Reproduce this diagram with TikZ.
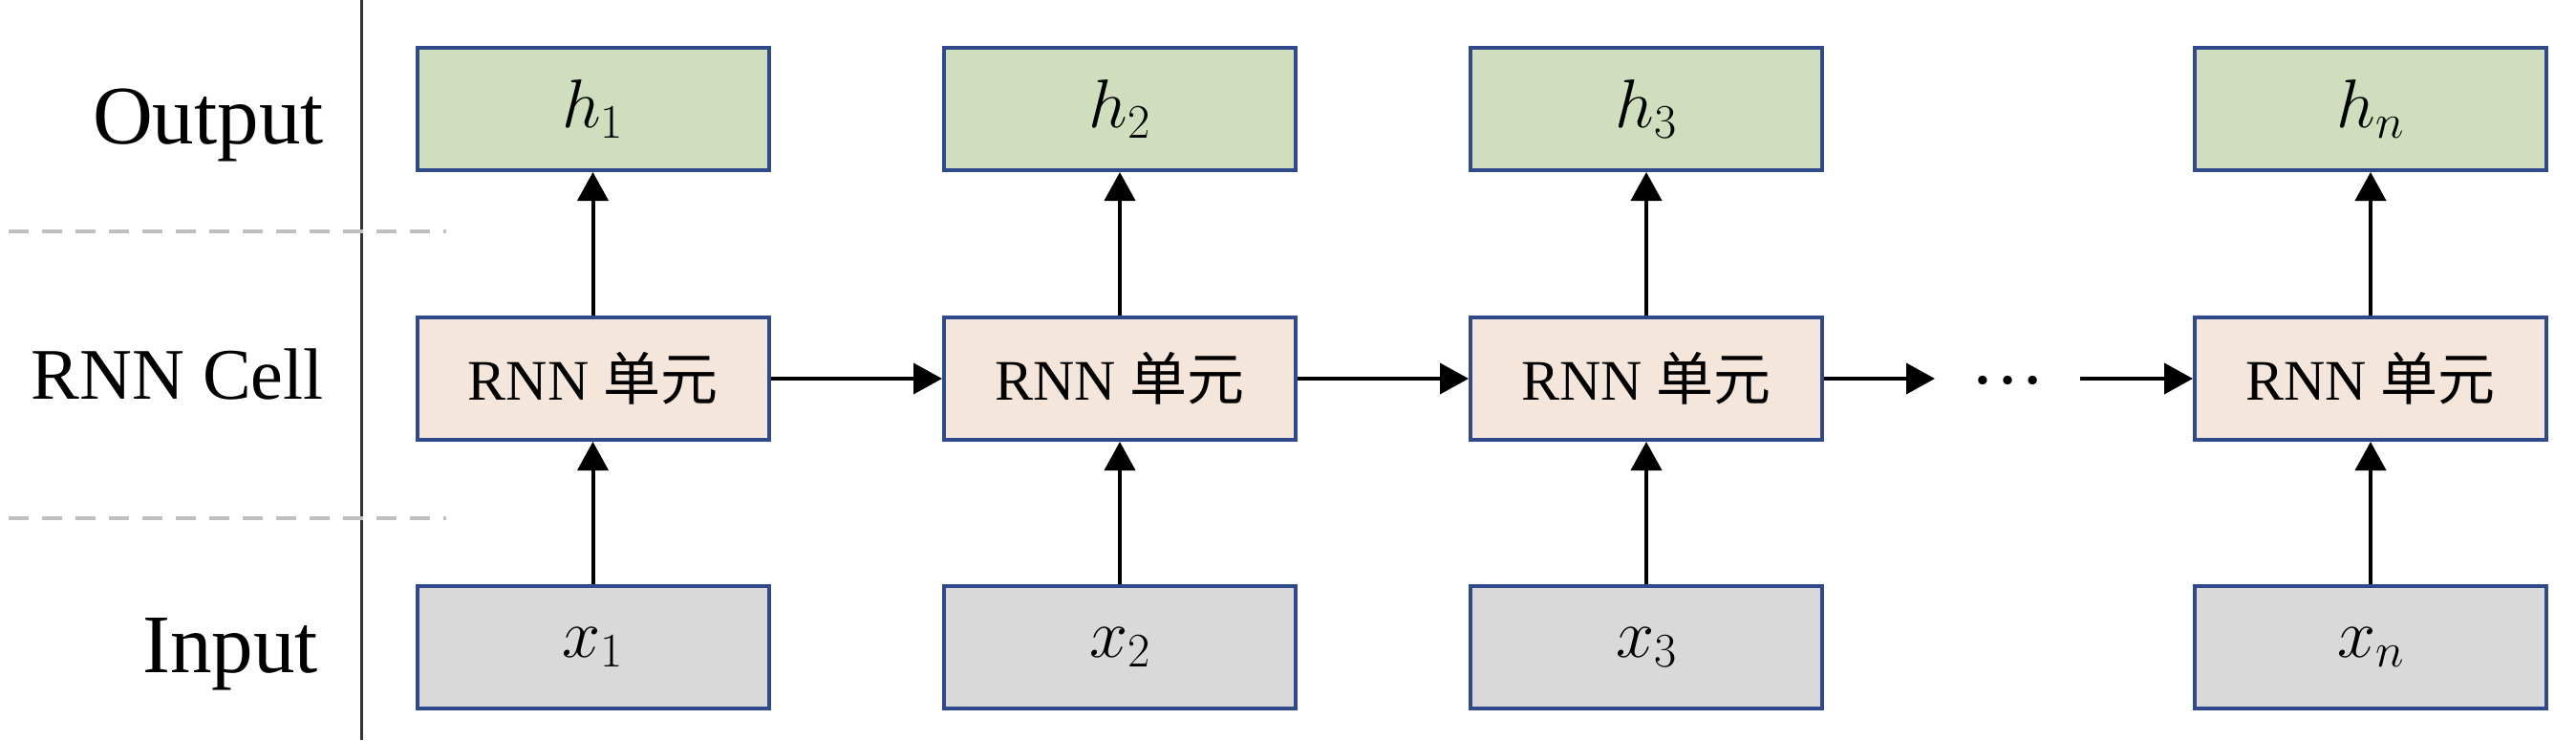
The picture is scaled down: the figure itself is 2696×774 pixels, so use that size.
\RequirePackage{fix-cm}
\documentclass[tikz,border=0pt]{standalone}
\usepackage[no-math]{fontspec}
\setmainfont{Liberation Serif}
\newfontfamily\cjk{Noto Sans CJK SC}
\usetikzlibrary{arrows.meta}
\definecolor{bordc}{HTML}{30498A}
\definecolor{outc}{HTML}{D0DEBD}
\definecolor{cellc}{HTML}{F4E6DA}
\definecolor{inc}{HTML}{D9D9D9}
\definecolor{dashc}{HTML}{BFBFBF}
\definecolor{sepc}{HTML}{333333}
\begin{document}
\begin{tikzpicture}[x=1pt,y=-1pt,
  box/.style={draw=bordc, line width=4pt, minimum width=368pt, minimum height=128pt, inner sep=0pt},
  outbox/.style={box, fill=outc, font=\fontsize{72}{86}\selectfont},
  cellbox/.style={box, fill=cellc, font=\fontsize{60}{72}\selectfont},
  inbox/.style={box, fill=inc, font=\fontsize{72}{86}\selectfont},
  arr/.style={line width=4pt, -{Triangle[length=30pt,width=32pt]}},
  rowlabel/.style={anchor=base east, inner sep=0pt, font=\fontsize{76}{90}\selectfont},
  biglabel/.style={rowlabel, font=\fontsize{87}{100}\selectfont},
  sep/.style={line width=3pt, draw=sepc},
  guide/.style={line width=4pt, draw=dashc, dash pattern=on 21pt off 14pt}
]
\useasboundingbox (0,0) rectangle (2696,774);

% separator and guides
\draw[sep] (378,0) -- (378,774);
\draw[guide] (9,242) -- (467,242);
\draw[guide] (9,542) -- (467,542);

% row labels
\node[biglabel] (lout) at (339,150) {Output};
\node[rowlabel] (lcell) at (339,417) {RNN Cell};
\node[biglabel] (lin) at (333,703) {Input};

% boxes
\node[outbox] (h1) at (620.5,114) {$h_1$};
\node[outbox] (h2) at (1172,114) {$h_2$};
\node[outbox] (h3) at (1723,114) {$h_3$};
\node[outbox] (hn) at (2481,114) {$h_n$};

\node[cellbox] (c1) at (620.5,396) {RNN {\cjk 单元}};
\node[cellbox] (c2) at (1172,396) {RNN {\cjk 单元}};
\node[cellbox] (c3) at (1723,396) {RNN {\cjk 单元}};
\node[cellbox] (cn) at (2481,396) {RNN {\cjk 单元}};

\node[inbox] (x1) at (620.5,677) {$x_1$};
\node[inbox] (x2) at (1172,677) {$x_2$};
\node[inbox] (x3) at (1723,677) {$x_3$};
\node[inbox] (xn) at (2481,677) {$x_n$};

% dots
\node[font=\fontsize{78}{90}\selectfont, inner sep=0pt, anchor=base] (dots) at (2101,401) {…};
\coordinate (d1) at (2025,396);
\coordinate (d2) at (2177,396);

% arrows
\foreach \i in {1,2,3,n}{
  \draw[arr] (x\i) -- (c\i);
  \draw[arr] (c\i) -- (h\i);
}
\draw[arr] (c1) -- (c2);
\draw[arr] (c2) -- (c3);
\draw[arr] (c3.east) -- (d1);
\draw[arr] (d2) -- (cn.west);
\end{tikzpicture}
\end{document}
